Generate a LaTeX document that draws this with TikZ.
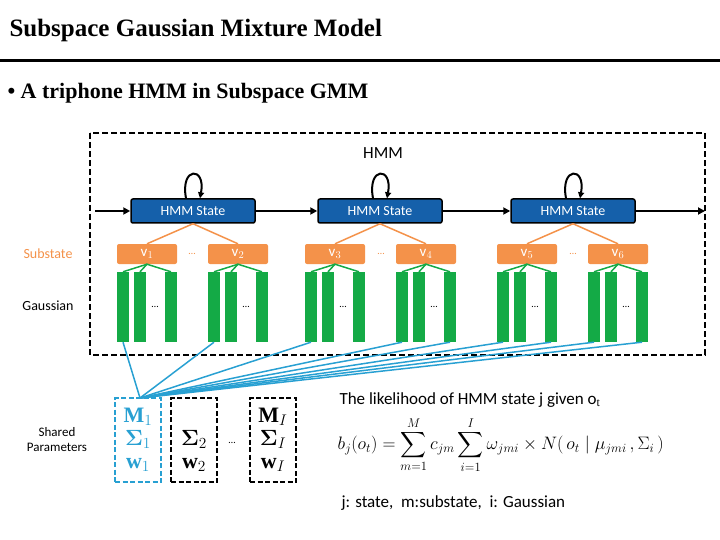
\RequirePackage{fix-cm}
\documentclass[tikz,border=0pt]{standalone}
\usepackage{amsmath,amssymb}
\usepackage{fontspec}
\setmainfont{Liberation Serif}
\newfontfamily\calf{Carlito}
\usetikzlibrary{arrows.meta}
\definecolor{hblue}{RGB}{21,96,170}
\definecolor{sorange}{RGB}{244,146,74}
\definecolor{ggreen}{RGB}{20,170,70}
\definecolor{lblue}{RGB}{40,160,210}
\begin{document}
\begin{tikzpicture}[x=1pt,y=-1pt,
 hs/.style={draw=black,line width=1.5pt,fill=hblue,rounded corners=2pt,minimum width=124pt,minimum height=24pt,text=white,font=\calf\fontsize{14}{14}\selectfont},
 ss/.style={fill=sorange,rounded corners=2pt,minimum width=60pt,minimum height=20pt,text=white,font=\calf\fontsize{15}{15}\selectfont,inner sep=0pt},
 gb/.style={fill=ggreen,minimum width=12pt,minimum height=70pt,inner sep=0pt},
 lab/.style={font=\calf\fontsize{14}{14}\selectfont},
 arr/.style={line width=2pt,-{Triangle[length=7pt,width=7pt]}},
 pb/.style={draw,dash pattern=on 5pt off 2.5pt,line width=2.5pt,minimum width=46pt,minimum height=84pt,inner sep=0pt,align=center,font=\fontsize{22}{23}\selectfont}]
\useasboundingbox (0,0) rectangle (720,540);
\node[anchor=west,font=\bfseries\fontsize{25}{25}\selectfont] (title) at (6,30) {Subspace Gaussian Mixture Model};
\draw[line width=3pt] (0,61) -- (720,61);
\node[anchor=west,font=\bfseries\fontsize{22}{22}\selectfont] (bul) at (4,93) {\textbullet\ A triphone HMM in Subspace GMM};
\draw[dash pattern=on 6pt off 3pt,line width=2.5pt] (90,133) rectangle (705,355);
\node[font=\calf\fontsize{17}{17}\selectfont] (hmm) at (383,153) {HMM};
\node[lab,text=sorange] (lsub) at (48,254) {Substate};
\node[lab] (lgau) at (48,306) {Gaussian};
\coordinate (in) at (95,211);
\coordinate (out) at (705,211);
\foreach \n/\x in {1/193,2/380,3/573}{
 \node[hs] (h\n) at (\x,211) {HMM State};
 \draw[line width=2pt,-{Triangle[length=6pt,width=6pt]}] ([xshift=-7pt]h\n.north) .. controls ([xshift=-13pt,yshift=32pt]h\n.north) and ([xshift=13pt,yshift=32pt]h\n.north) .. ([xshift=7pt]h\n.north);
}
\draw[arr] (in) -- (h1);
\draw[arr] (h1) -- (h2);
\draw[arr] (h2) -- (h3);
\draw[arr] (h3) -- (out);
\foreach \n/\x/\h in {1/147/1,2/238/1,3/335/2,4/426/2,5/527/3,6/618/3}{
 \node[ss] (v\n) at (\x,254) {v$_{\n}$};
 \draw[sorange,line width=1.5pt] (h\h.south) -- (v\n.north);
 \node[gb] (g\n a) at (\x-24,307) {};
 \node[gb] (g\n b) at (\x-7,307) {};
 \node[gb] (g\n c) at (\x+24,307) {};
 \node[font=\calf] (d\n) at (\x+8,307) {\dots};
 \foreach \b in {a,b,c}{\draw[ggreen,line width=1.5pt] (g\n\b.north) -- (v\n.south);}
}
\node[font=\calf,text=sorange] (e1) at (192,254) {\dots};
\node[font=\calf,text=sorange] (e2) at (381,254) {\dots};
\node[font=\calf,text=sorange] (e3) at (573,254) {\dots};
\node[pb,draw=lblue,text=lblue] (p1) at (138,440) {$\mathbf{M}_1$\\$\boldsymbol{\Sigma}_1$\\$\mathbf{w}_1$};
\node[pb] (p2) at (194,440) {\phantom{$\mathbf{M}_2$}\\$\boldsymbol{\Sigma}_2$\\$\mathbf{w}_2$};
\node[font=\calf] (pd) at (232,443) {\dots};
\node[pb] (p3) at (273,440) {$\mathbf{M}_I$\\$\boldsymbol{\Sigma}_I$\\$\mathbf{w}_I$};
\coordinate (pt) at (140,398);
\foreach \g in {g1a,g2a,g3a,g4a,g5a,g6a,g4c,g5c,g6c}{\draw[lblue,line width=1.5pt] (\g.south) -- (pt);}
\node[align=center,font=\calf\fontsize{13}{15}\selectfont] (lsh) at (57,440) {Shared\\Parameters};
\node[anchor=west,font=\calf\fontsize{17}{17}\selectfont] (lik) at (336,400) {The likelihood of HMM state j given o$_\mathrm{t}$};
\node[anchor=west,font=\fontsize{18}{18}\selectfont] (form) at (334,445) {$b_j(o_t)=\displaystyle\sum_{m=1}^{M}c_{jm}\sum_{i=1}^{I}\omega_{jmi}\times N(\,o_t\mid\mu_{jmi}\,,\Sigma_i\,)$};
\node[anchor=west,font=\calf\fontsize{17}{17}\selectfont] (leg) at (338,503) {j: state,\ \ m:substate,\ \ i: Gaussian};
\end{tikzpicture}
\end{document}
